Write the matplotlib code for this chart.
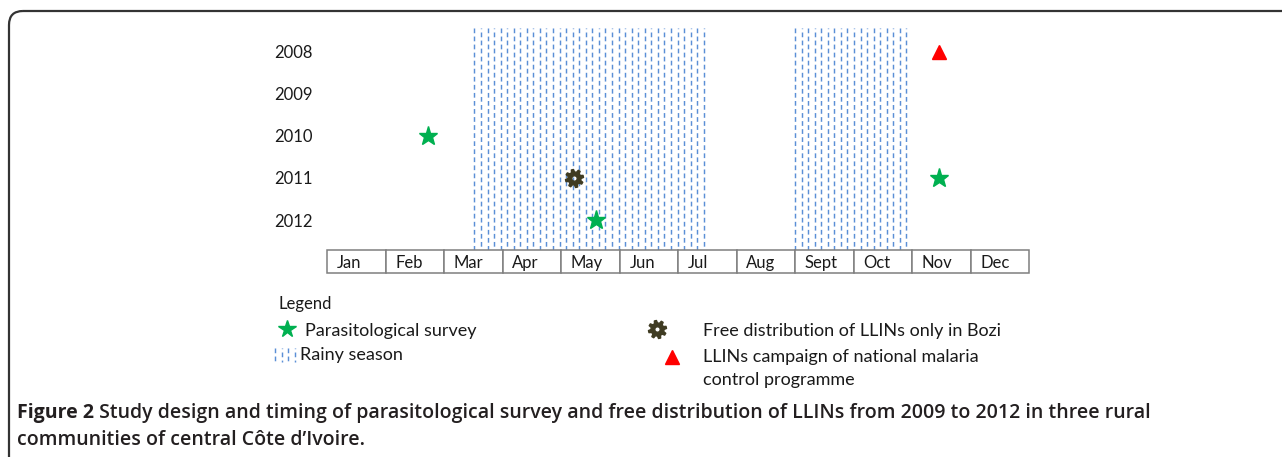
import matplotlib.pyplot as plt
import numpy as np
from matplotlib.path import Path
from matplotlib.patches import FancyBboxPatch

plt.rcParams['font.family'] = ['Lato', 'DejaVu Sans']
plt.rcParams['lines.scale_dashes'] = False

# data (x in month units: 0 = start of Jan, 12 = end of Dec)
months = ['Jan', 'Feb', 'Mar', 'Apr', 'May', 'Jun', 'Jul', 'Aug', 'Sept', 'Oct', 'Nov', 'Dec']
years = [2008, 2009, 2010, 2011, 2012]
rain_start = [2.49, 7.97]
rain_end = [6.46, 9.95]
survey_x = [1.73, 4.60, 10.47]
survey_y = [2010, 2012, 2011]
bozi_x = [4.23]
bozi_y = [2011]
campaign_x = [10.46]
campaign_y = [2008]

green = '#00b050'
gear_col = '#3f3b22'
rain_col = '#5b8fd6'
txt = '#1a1a1a'
dash = (3.4, 2.4)

W, H = 1282, 457
fig = plt.figure(figsize=(W / 100, H / 100), dpi=100)


def px_axes(x0, y0, x1, y1):
    return fig.add_axes([x0 / W, 1 - y1 / H, (x1 - x0) / W, (y1 - y0) / H])


# gear marker: 8 teeth with a hole
n_teeth = 8
ang = []
rad = []
for i in range(n_teeth):
    a0 = 2 * np.pi * i / n_teeth
    step = 2 * np.pi / n_teeth
    for frac, r in [(0.0, 0.72), (0.15, 1.0), (0.45, 1.0), (0.6, 0.72)]:
        ang.append(a0 + frac * step)
        rad.append(r)
ang = np.array(ang)
rad = np.array(rad)
outer = np.column_stack([rad * np.cos(ang), rad * np.sin(ang)])
t = np.linspace(0, 2 * np.pi, 24, endpoint=False)[::-1]
hole = np.column_stack([0.3 * np.cos(t), 0.3 * np.sin(t)])
verts = np.vstack([outer, outer[:1], hole, hole[:1]])
codes = ([Path.MOVETO] + [Path.LINETO] * (len(outer) - 1) + [Path.CLOSEPOLY]
         + [Path.MOVETO] + [Path.LINETO] * (len(hole) - 1) + [Path.CLOSEPOLY])
gear = Path(verts, codes)

# main panel
ax = px_axes(327, 28, 1029, 250)
ax.set_xlim(0, 12)
ax.set_ylim(2012.714, 2007.43)
for s in ax.spines.values():
    s.set_visible(False)
ax.set_xticks([])
ax.set_yticks(years)
ax.set_yticklabels([str(y) for y in years], fontsize=12, color=txt)
ax.tick_params(axis='y', length=0, pad=10)

# rainy season: dashed vertical hatching, alternate columns offset
step = 0.112
for a, b in zip(rain_start, rain_end):
    xs = np.arange(a + 0.03, b, step)
    ax.vlines(xs[::2], 2007.43, 2012.714, colors=rain_col, lw=1.05,
              linestyles=[(0, dash)])
    ax.vlines(xs[1::2], 2007.43, 2012.714, colors=rain_col, lw=1.05,
              linestyles=[(2.9, dash)])

ax.plot(survey_x, survey_y, ls='none', marker='*', ms=14, color=green, zorder=3)
ax.plot(bozi_x, bozi_y, ls='none', marker=gear, ms=13, color=gear_col, zorder=3)
ax.plot(campaign_x, campaign_y, ls='none', marker='^', ms=10.5, color='#ff0000',
        mec='#ff0000', mew=1, zorder=3)

# month table
axt = px_axes(327, 250, 1029, 273)
axt.set_xlim(0, 12)
axt.set_ylim(0, 1)
axt.axis('off')
axt.bar(np.arange(12), 1, width=1, align='edge', color='white',
        edgecolor='#7f7f7f', lw=1.1, clip_on=False)
for i, m in enumerate(months):
    axt.text(i + 0.17, 0.45, m, ha='left', va='center', fontsize=12, color=txt)

# overlay in pixel units: frame, legend, caption
ov = fig.add_axes([0, 0, 1, 1], zorder=-1)
ov.set_xlim(0, W)
ov.set_ylim(H, 0)
ov.axis('off')
ov.add_patch(FancyBboxPatch((9, 11), 1400, 600, boxstyle='round,pad=0,rounding_size=14',
                            fc='none', ec='#333333', lw=1.6))

ov2 = fig.add_axes([0, 0, 1, 1])
ov2.set_xlim(0, W)
ov2.set_ylim(H, 0)
ov2.axis('off')
ov2.text(278, 304, 'Legend', fontsize=12, va='center', color=txt)
ov2.plot([287], [329], marker='*', ms=13, color=green, ls='none')
ov2.text(305, 331, 'Parasitological survey', fontsize=13, va='center', color=txt)
for k, x in enumerate(np.arange(275, 298, 6.5)):
    ov2.vlines(x, 348, 362, colors=rain_col, lw=1.05,
               linestyles=[((k % 2) * 2.9, dash)])
ov2.text(300, 355, 'Rainy season', fontsize=13, va='center', color=txt)
ov2.plot([657], [329], marker=gear, ms=13, color=gear_col, ls='none')
ov2.text(703, 331, 'Free distribution of LLINs only in Bozi', fontsize=13, va='center', color=txt)
ov2.plot([672], [357], marker='^', ms=10, color='#ff0000', ls='none')
ov2.text(703, 357, 'LLINs campaign of national malaria', fontsize=13, va='center', color=txt)
ov2.text(703, 380, 'control programme', fontsize=13, va='center', color=txt)

cap = '#231f20'
cap_font = ['Open Sans', 'DejaVu Sans']
t1 = ov2.text(17, 413, 'Figure 2', fontsize=14, fontweight='bold', va='center',
              color=cap, family=cap_font)
ov2.annotate(' Study design and timing of parasitological survey and free distribution of '
             'LLINs from 2009 to 2012 in three rural',
             xy=(1, 0.5), xycoords=t1, va='center', ha='left', fontsize=14,
             fontweight='semibold', color=cap, family=cap_font)
ov2.text(17, 440, 'communities of central Côte d\u2019Ivoire.', fontsize=14,
         fontweight='semibold', va='center', color=cap, family=cap_font)

fig.savefig('out.png', dpi=100)
